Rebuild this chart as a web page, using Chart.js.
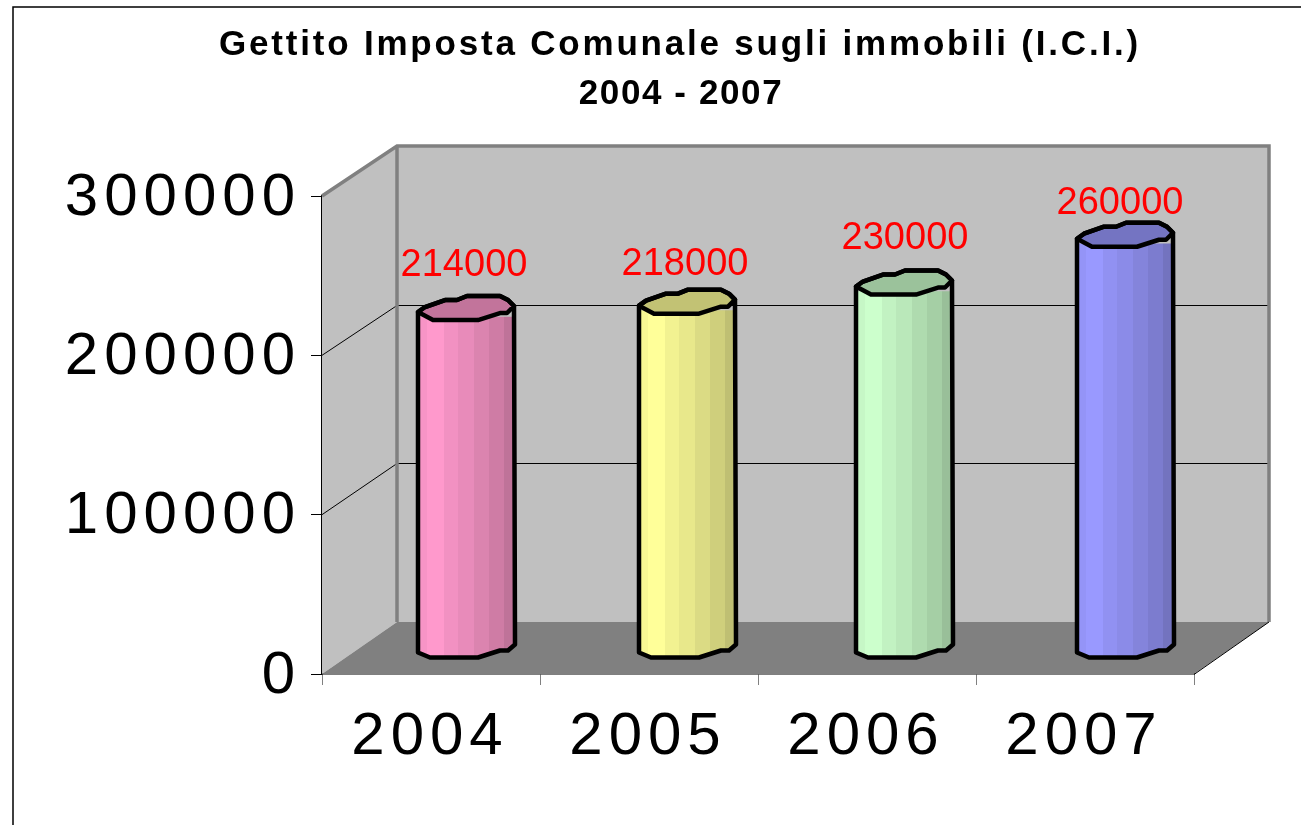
<!DOCTYPE html>
<html><head><meta charset="utf-8">
<style>html,body{margin:0;padding:0;background:#fff}canvas{display:block}</style>
<script src="https://cdn.jsdelivr.net/npm/chart.js@4/dist/chart.umd.min.js"></script>
</head><body><canvas id="c" width="1301" height="825"></canvas>
<script>
const categories = ['2004','2005','2006','2007'];
const revenue = [214000,218000,230000,260000];
const titleLines = ['Gettito Imposta Comunale sugli immobili (I.C.I.)','2004 - 2007'];
const yTicks = [0,100000,200000,300000];
const barColors = [[255,153,204],[255,255,153],[204,255,204],[153,153,255]];
const valueColor = '#ff0000';

const DEPTH = {x:75, y:-52, squash:476/478};
const BAR = {dx:36, dy:-16, w:95};
const barNudge = [-1,2,1,4];
const labelNudge = [-52,-46,-53,-40];
const labelX = [-2,-2,1,-5];
const front = [[-48,-5],[-33,3],[12,3],[34,-4],[41,-4],[48,-11]];
const back = [[42,-17],[34,-21],[1,-21],[-9,-17],[-21,-17],[-41,-10]];
const bottom = [[49,-13],[42,-7],[34,-7],[12,0],[-36,0],[-48,-5]];
const bands = [[0,.97],[.09,1],[.27,.95],[.42,.91],[.58,.86],[.74,.81],[.9,.75]];

function shade(c,f){return `rgb(${c.map(v=>Math.round(v*f)).join(',')})`;}
function path(ctx,pts,cx,y){pts.forEach((p,i)=>{i?ctx.lineTo(cx+p[0],y+p[1]):ctx.moveTo(cx+p[0],y+p[1]);});}
function sil(ctx,cx,yTop,yBot){ctx.beginPath();ctx.moveTo(cx-48,yTop-5);
  back.slice().reverse().forEach(p=>ctx.lineTo(cx+p[0],yTop+p[1]));
  ctx.lineTo(cx+48,yTop-11);ctx.lineTo(cx+49,yBot-13);
  bottom.slice(1).forEach(p=>ctx.lineTo(cx+p[0],yBot+p[1]));ctx.closePath();}

const scene = {
  id:'scene',
  beforeDraw(chart){chart.ctx.letterSpacing='6px';},
  beforeDatasetsDraw(chart){
    const {ctx,scales:{x,y}}=chart, L=x.left,R=x.right,T=y.top,B=y.bottom,dx=DEPTH.x,dy=DEPTH.y;
    const backY=p=>B+dy-(B-p)*DEPTH.squash, BT=backY(T), BB=B+dy;
    ctx.letterSpacing='0px';
    ctx.save();
    ctx.fillStyle='#c0c0c0';
    ctx.beginPath();ctx.moveTo(L,T);ctx.lineTo(L+dx,BT);ctx.lineTo(R+dx,BT);ctx.lineTo(R+dx,BB);ctx.lineTo(L+dx,BB);ctx.lineTo(L,B);ctx.closePath();ctx.fill();
    ctx.fillStyle='#808080';
    ctx.beginPath();ctx.moveTo(L,B);ctx.lineTo(R,B);ctx.lineTo(R+dx,BB);ctx.lineTo(L+dx,BB);ctx.closePath();ctx.fill();
    ctx.strokeStyle='#000';ctx.lineWidth=1;
    yTicks.slice(1,3).forEach(v=>{const f=y.getPixelForValue(v),p=Math.round(backY(f))+.5;
      ctx.beginPath();ctx.moveTo(L,f);ctx.lineTo(L+dx,p);ctx.lineTo(R+dx,p);ctx.stroke();});
    ctx.strokeStyle='#808080';ctx.lineWidth=3.5;
    ctx.beginPath();ctx.moveTo(L,T);ctx.lineTo(L+dx,BT);ctx.lineTo(R+dx,BT);ctx.lineTo(R+dx,BB);
    ctx.moveTo(L+dx,BT);ctx.lineTo(L+dx,BB);ctx.stroke();
    ctx.strokeStyle='#000';ctx.lineWidth=1;
    ctx.beginPath();ctx.moveTo(R,B+.5);ctx.lineTo(R+dx,BB);ctx.stroke();
    ctx.restore();
  },
  beforeDatasetDraw(chart,args){
    const {ctx}=chart, meta=args.meta;
    meta.data.forEach((el,i)=>{
      const dx=BAR.dx+barNudge[i], yTop=el.y+BAR.dy, yBot=el.base+BAR.dy, cx=el.x+dx;
      const x0=el.x-BAR.w/2, g=ctx.createLinearGradient(x0,0,x0+BAR.w,0), c=barColors[i];
      bands.forEach((b,k)=>{g.addColorStop(b[0],shade(c,b[1]));g.addColorStop(k+1<bands.length?bands[k+1][0]:1,shade(c,b[1]));});
      el.options=Object.assign({},el.options,{backgroundColor:g});
      ctx.save();
      sil(ctx,cx,yTop,yBot);ctx.clip();
      ctx.translate(dx,BAR.dy);
      el.draw(ctx);
      ctx.restore();
      ctx.save();
      ctx.lineJoin='round';ctx.lineWidth=4.5;ctx.strokeStyle='#000';
      ctx.fillStyle=shade(barColors[i],.76);
      ctx.beginPath();
      path(ctx,front,cx,yTop);
      back.forEach(p=>ctx.lineTo(cx+p[0],yTop+p[1]));ctx.closePath();ctx.fill();ctx.stroke();
      sil(ctx,cx,yTop,yBot);ctx.stroke();
      ctx.restore();
      ctx.save();
      ctx.fillStyle=valueColor;ctx.font='38px "Liberation Sans"';ctx.textAlign='center';ctx.textBaseline='middle';
      ctx.fillText(String(revenue[i]),cx+labelX[i],yTop+labelNudge[i]);
      ctx.restore();
    });
    return false;
  },
  afterDraw(chart){
    const {ctx}=chart;
    ctx.save();
    ctx.strokeStyle='#000';ctx.lineWidth=1.5;
    ctx.beginPath();ctx.moveTo(13,825);ctx.lineTo(13,7);ctx.lineTo(1301,7);ctx.stroke();
    ctx.fillStyle='#000';ctx.textAlign='center';ctx.textBaseline='middle';
    ctx.font='bold 35px "Liberation Sans"';
    ctx.letterSpacing='2.8px';
    ctx.fillText(titleLines[0],680,45);
    ctx.letterSpacing='1.6px';
    ctx.fillText(titleLines[1],681,94);
    ctx.restore();
  }
};

new Chart(document.getElementById('c'),{
  type:'bar',
  plugins:[scene],
  data:{labels:categories,datasets:[{data:revenue,barThickness:BAR.w,borderWidth:0,backgroundColor:'#ff99cc'}]},
  options:{
    responsive:false,animation:false,
    layout:{padding:{top:196,right:107,left:0,bottom:0}},
    plugins:{legend:{display:false},tooltip:{enabled:false}},
    scales:{
      x:{grid:{display:true,drawOnChartArea:false,drawTicks:true,tickLength:11,color:'#808080'},
         border:{color:'#000',width:1.5},
         ticks:{font:{family:'"Liberation Sans"',size:60},color:'#000',padding:16,maxRotation:0,labelOffset:-1},
         afterFit(s){s.height=151;}},
      y:{min:0,max:300000,afterBuildTicks(s){s.ticks=yTicks.map(v=>({value:v}));},
         grid:{display:true,drawOnChartArea:false,tickLength:11,color:'#000'},
         border:{color:'#000',width:1.5},
         ticks:{font:{family:'"Liberation Sans"',size:60},color:'#000',padding:10,labelOffset:2,callback:v=>String(v)},
         afterFit(s){s.width=322;}}
    }
  }
});
</script></body></html>
